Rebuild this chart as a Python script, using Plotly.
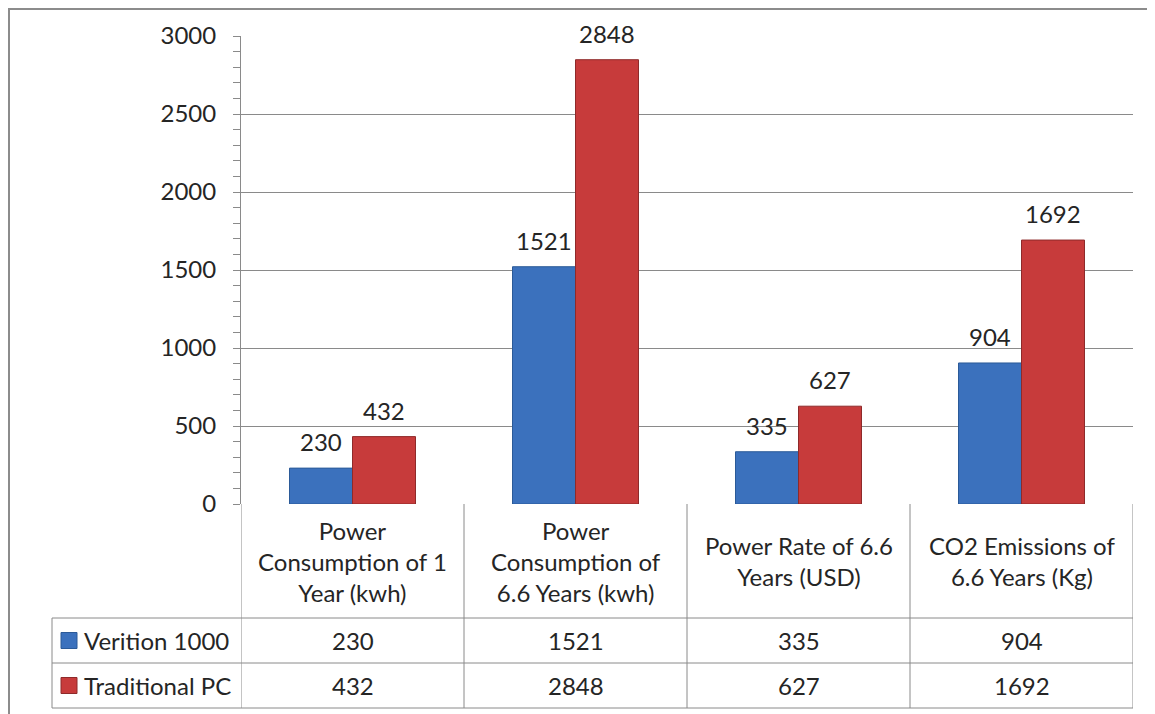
import plotly.graph_objects as go

# ---------------- data ----------------
categories = [
    "Power<br>Consumption of 1<br>Year (kwh)",
    "Power<br>Consumption of<br>6.6 Years (kwh)",
    "Power Rate of 6.6<br>Years (USD)",
    "CO2 Emissions of<br>6.6 Years (Kg)",
]
series_names = ["Verition 1000", "Traditional PC"]
verition = [230, 1521, 335, 904]
traditional = [432, 2848, 627, 1692]
y_tick_values = [0, 500, 1000, 1500, 2000, 2500, 3000]

# ---------------- layout constants ----------------
W, H = 1155, 714
PAGE_OFF = 8          # default body margin of the html page
FONT = "Lato"
TXT = "#252525"
GRID = "#8a8a8a"
BLUE, BLUE_EDGE = "#3b71bd", "#2b5a98"
RED, RED_EDGE = "#c73b3b", "#8e2a2a"
BARGAP = 0.435
FS = 24


def px(x):
    return (x - PAGE_OFF) / W


def py(y):
    return (H + PAGE_OFF - y) / H


x_dom = [px(241), px(1133)]
y_dom = [py(504), py(36)]
idx = list(range(len(categories)))

fig = go.Figure()
for name, vals, col, edge in [
    (series_names[0], verition, BLUE, BLUE_EDGE),
    (series_names[1], traditional, RED, RED_EDGE),
]:
    fig.add_trace(go.Bar(
        x=idx, y=vals, name=name,
        marker=dict(color=col, line=dict(color=edge, width=1)),
        showlegend=False, hoverinfo="y",
    ))

bw = (1 - BARGAP) / 2
shapes = []
annotations = []

# data labels above bars
for s, vals in enumerate([verition, traditional]):
    off = (s - 0.5) * bw
    for i, v in enumerate(vals):
        annotations.append(dict(
            x=i + off, y=v, xref="x", yref="y", text=str(v), showarrow=False,
            xanchor="center", yanchor="bottom", yshift=10,
            font=dict(family=FONT, size=FS, color=TXT),
        ))

# ---------------- data table ----------------
row_top, row1, row2, row3 = 504, 618, 663, 708
left_edge = 52
line = dict(color=GRID, width=1)
for yy in [row1, row2, row3]:
    shapes.append(dict(type="line", xref="paper", yref="paper",
                       x0=px(left_edge), x1=x_dom[1], y0=py(yy), y1=py(yy), line=line))
for k in range(len(categories) + 1):
    shapes.append(dict(type="line", xref="x", yref="paper",
                       x0=k - 0.5, x1=k - 0.5, y0=py(row_top), y1=py(row3), line=line))
shapes.append(dict(type="line", xref="paper", yref="paper",
                   x0=px(left_edge), x1=px(left_edge), y0=py(row1), y1=py(row3), line=line))

for i, c in enumerate(categories):
    annotations.append(dict(x=i, y=py((row_top + row1) / 2), xref="x", yref="paper",
                            xanchor="center", yanchor="middle",
                            text=c, showarrow=False, align="center",
                            font=dict(family=FONT, size=FS, color=TXT)))
for r, (vals, (ya, yb)) in enumerate(zip([verition, traditional], [(row1, row2), (row2, row3)])):
    cy = (ya + yb) / 2
    for i, v in enumerate(vals):
        annotations.append(dict(x=i, y=py(cy), xref="x", yref="paper",
                                xanchor="center", yanchor="middle",
                                text=str(v), showarrow=False,
                                font=dict(family=FONT, size=FS, color=TXT)))
    annotations.append(dict(x=px(82), y=py(cy), xref="paper", yref="paper",
                            xanchor="left", yanchor="middle", text=series_names[r], showarrow=False,
                            font=dict(family=FONT, size=FS, color=TXT)))
    col, edge = [(BLUE, BLUE_EDGE), (RED, RED_EDGE)][r]
    shapes.append(dict(type="rect", xref="paper", yref="paper",
                       x0=px(61), x1=px(77), y0=py(cy - 8), y1=py(cy + 8),
                       fillcolor=col, line=dict(color=edge, width=1)))

# outer chart frame
shapes.append(dict(type="rect", xref="paper", yref="paper",
                   x0=px(9), x1=1.05, y0=-0.05, y1=py(9),
                   line=dict(color="#8c8c8c", width=2), fillcolor="rgba(0,0,0,0)", layer="below"))

fig.update_layout(
    width=W, height=H,
    margin=dict(l=0, r=0, t=0, b=0),
    paper_bgcolor="white", plot_bgcolor="white",
    barmode="group", bargap=BARGAP, bargroupgap=0,
    font=dict(family=FONT, color=TXT),
    xaxis=dict(domain=x_dom, range=[-0.5, len(categories) - 0.5], showticklabels=False,
               showgrid=False, zeroline=False, showline=False, ticks="",
               automargin=False, fixedrange=True),
    yaxis=dict(domain=y_dom, range=[0, 3000], tickvals=y_tick_values,
               showgrid=True, gridcolor=GRID, gridwidth=1, zeroline=False,
               showline=True, linecolor=GRID, linewidth=1,
               ticks="outside", ticklen=7, tickcolor=GRID, tickwidth=1,
               ticklabelstandoff=12, automargin=False,
               tickfont=dict(family=FONT, size=FS, color=TXT),
               minor=dict(dtick=100, tick0=0, ticks="outside", ticklen=7,
                          tickcolor=GRID, showgrid=False)),
    shapes=shapes, annotations=annotations,
)

fig.write_html("out.html")
